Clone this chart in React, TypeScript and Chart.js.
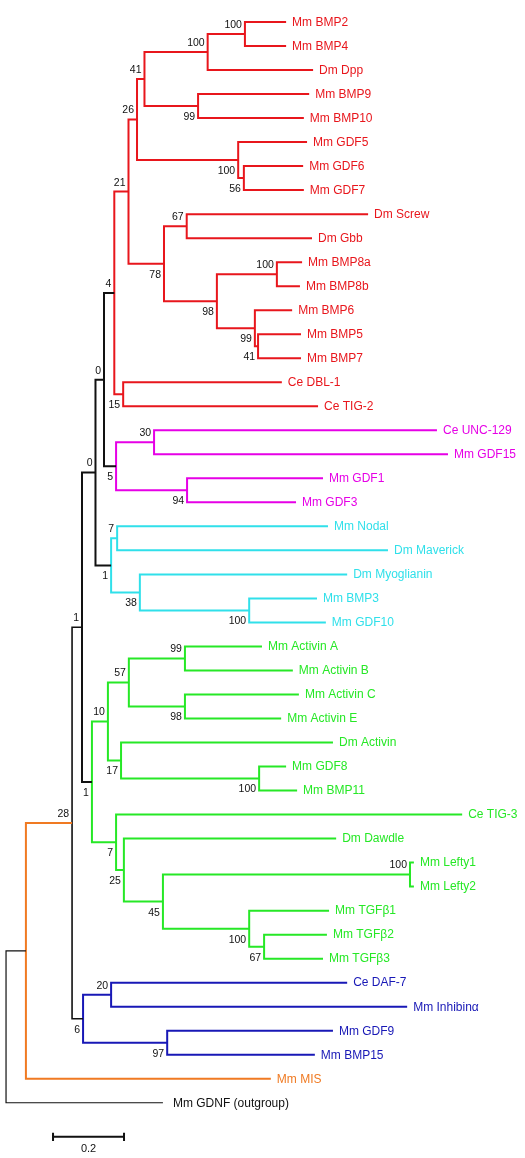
import { useEffect, useRef } from "react";
import { Chart, registerables } from "chart.js";

Chart.register(...registerables);

// ---------- DATA ----------
// Leaves, top to bottom
const leafNames: string[] = [
  "Mm BMP2", "Mm BMP4", "Dm Dpp", "Mm BMP9", "Mm BMP10", "Mm GDF5", "Mm GDF6", "Mm GDF7",
  "Dm Screw", "Dm Gbb", "Mm BMP8a", "Mm BMP8b", "Mm BMP6", "Mm BMP5", "Mm BMP7",
  "Ce DBL-1", "Ce TIG-2", "Ce UNC-129", "Mm GDF15", "Mm GDF1", "Mm GDF3",
  "Mm Nodal", "Dm Maverick", "Dm Myoglianin", "Mm BMP3", "Mm GDF10",
  "Mm Activin A", "Mm Activin B", "Mm Activin C", "Mm Activin E", "Dm Activin",
  "Mm GDF8", "Mm BMP11", "Ce TIG-3", "Dm Dawdle", "Mm Lefty1", "Mm Lefty2",
  "Mm TGFβ1", "Mm TGFβ2", "Mm TGFβ3", "Ce DAF-7", "Mm Inhibinα", "Mm GDF9", "Mm BMP15",
  "Mm MIS", "Mm GDNF (outgroup)",
];

// Distance of each leaf tip from the root (substitutions per site)
const leafDist: number[] = [
  0.789, 0.789, 0.865, 0.854, 0.839, 0.848, 0.837, 0.839,
  1.020, 0.862, 0.834, 0.828, 0.806, 0.831, 0.831,
  0.777, 0.879, 1.214, 1.245, 0.893, 0.817,
  0.907, 1.076, 0.961, 0.876, 0.901,
  0.721, 0.808, 0.825, 0.775, 0.921,
  0.789, 0.820, 1.285, 0.930, 1.149, 1.149,
  0.910, 0.904, 0.893, 0.961, 1.130, 0.921, 0.870,
  0.746, 0.442,
];

// Internal nodes
const nodeIds: string[] = [
  "root", "ingroup", "n72", "n82", "n95", "n104",
  "r4", "r21", "r26", "r41", "r100a", "r100b", "r99", "r100c", "r56",
  "r78", "r67", "r98", "r100d", "r99b", "r41b", "r15",
  "m5", "m30", "m94",
  "c1", "c7", "c38", "c100",
  "g1", "g10", "g57", "g99", "g98", "g17", "g100a", "g7", "g25", "g45", "g100b", "g100c", "g67",
  "b6", "b20", "b97",
];

const nodeKids: [string, string][] = [
  ["ingroup", "Mm GDNF (outgroup)"], ["n72", "Mm MIS"], ["n82", "b6"], ["n95", "g1"], ["n104", "c1"], ["r4", "m5"],
  ["r21", "r15"], ["r26", "r78"], ["r41", "r100c"], ["r100a", "r99"], ["r100b", "Dm Dpp"], ["Mm BMP2", "Mm BMP4"],
  ["Mm BMP9", "Mm BMP10"], ["Mm GDF5", "r56"], ["Mm GDF6", "Mm GDF7"],
  ["r67", "r98"], ["Dm Screw", "Dm Gbb"], ["r100d", "r99b"], ["Mm BMP8a", "Mm BMP8b"], ["Mm BMP6", "r41b"],
  ["Mm BMP5", "Mm BMP7"], ["Ce DBL-1", "Ce TIG-2"],
  ["m30", "m94"], ["Ce UNC-129", "Mm GDF15"], ["Mm GDF1", "Mm GDF3"],
  ["c7", "c38"], ["Mm Nodal", "Dm Maverick"], ["Dm Myoglianin", "c100"], ["Mm BMP3", "Mm GDF10"],
  ["g10", "g7"], ["g57", "g17"], ["g99", "g98"], ["Mm Activin A", "Mm Activin B"], ["Mm Activin C", "Mm Activin E"],
  ["Dm Activin", "g100a"], ["Mm GDF8", "Mm BMP11"], ["Ce TIG-3", "g25"], ["Dm Dawdle", "g45"], ["g100b", "g100c"],
  ["Mm Lefty1", "Mm Lefty2"], ["Mm TGFβ1", "g67"], ["Mm TGFβ2", "Mm TGFβ3"],
  ["b20", "b97"], ["Ce DAF-7", "Mm Inhibinα"], ["Mm GDF9", "Mm BMP15"],
];

const nodeDist: number[] = [
  0, 0.056, 0.186, 0.214, 0.252, 0.276,
  0.305, 0.345, 0.369, 0.390, 0.568, 0.673, 0.541, 0.654, 0.670,
  0.445, 0.509, 0.594, 0.763, 0.701, 0.710, 0.330,
  0.310, 0.417, 0.510,
  0.296, 0.313, 0.377, 0.685,
  0.242, 0.287, 0.346, 0.504, 0.504, 0.324, 0.713, 0.310, 0.332, 0.442, 1.138, 0.685, 0.727,
  0.217, 0.296, 0.454,
];

// Bootstrap support (null = not shown)
const nodeSupport: (number | null)[] = [
  null, null, 28, 1, 0, 0,
  4, 21, 26, 41, 100, 100, 99, 100, 56,
  78, 67, 98, 100, 99, 41, 15,
  5, 30, 94,
  1, 7, 38, 100,
  1, 10, 57, 99, 98, 17, 100, 7, 25, 45, 100, 100, 67,
  6, 20, 97,
];

const scaleBarLength = 0.2;
const scaleBarLabel = "0.2";

// ---------- STYLE ----------
const palette: Record<string, string> = {
  r: "#e8161c",
  m: "#e600e6",
  c: "#30e0ea",
  g: "#26e826",
  b: "#1818b6",
  o: "#f07a22",
  k: "#111111",
};
function nodeColor(id: string): string {
  if (id === "ingroup") return palette.o;
  if (id === "root" || id.startsWith("n")) return palette.k;
  return palette[id[0]] || palette.k;
}
function nodeWidth(id: string): number {
  if (id === "root") return 1.2;
  if (id === "n72") return 1.6;
  return 2;
}
const FONT = '"Liberation Sans", Arial, Helvetica, sans-serif';

export default function App() {
  const ref = useRef<HTMLCanvasElement | null>(null);

  useEffect(() => {
    if (!ref.current) return;

    const isLeaf = (id: string) => leafNames.indexOf(id) >= 0;
    const distOf = (id: string): number =>
      isLeaf(id) ? leafDist[leafNames.indexOf(id)] : nodeDist[nodeIds.indexOf(id)];
    const yOf = (id: string): number => {
      if (isLeaf(id)) return leafNames.indexOf(id);
      const k = nodeKids[nodeIds.indexOf(id)];
      return (yOf(k[0]) + yOf(k[1])) / 2;
    };
    const parentOf: Record<string, string> = {};
    nodeIds.forEach((id, i) => {
      parentOf[nodeKids[i][0]] = id;
      parentOf[nodeKids[i][1]] = id;
    });
    const isFirstChild = (id: string) => {
      const p = parentOf[id];
      if (!p) return true;
      return nodeKids[nodeIds.indexOf(p)][0] === id;
    };

    const datasets: any[] = nodeIds.map((id, i) => {
      const [a, b] = nodeKids[i];
      const xn = nodeDist[i];
      const ya = yOf(a);
      const yb = yOf(b);
      return {
        label: id,
        data: [
          { x: distOf(a), y: ya },
          { x: xn, y: ya },
          { x: xn, y: yb },
          { x: distOf(b), y: yb },
        ],
        showLine: true,
        borderColor: nodeColor(id),
        backgroundColor: nodeColor(id),
        borderWidth: nodeWidth(id),
        pointRadius: 0,
        pointHoverRadius: 0,
        fill: false,
        tension: 0,
        borderJoinStyle: "miter",
        borderCapStyle: "butt",
      };
    });

    // scale bar
    const sbX0 = 0.1324;
    const sbY = 46.42;
    const sbT = 0.17;
    datasets.push({
      label: "scale",
      data: [
        { x: sbX0, y: sbY - sbT },
        { x: sbX0, y: sbY + sbT },
        { x: sbX0, y: sbY },
        { x: sbX0 + scaleBarLength, y: sbY },
        { x: sbX0 + scaleBarLength, y: sbY - sbT },
        { x: sbX0 + scaleBarLength, y: sbY + sbT },
      ],
      showLine: true,
      borderColor: "#111111",
      borderWidth: 2,
      pointRadius: 0,
      fill: false,
      tension: 0,
      borderJoinStyle: "miter",
    });

    const labelPlugin = {
      id: "treeLabels",
      afterDatasetsDraw(chart: any) {
        const ctx = chart.ctx as CanvasRenderingContext2D;
        const xs = chart.scales.x;
        const ys = chart.scales.y;
        ctx.save();
        // leaf names
        ctx.font = `12px ${FONT}`;
        ctx.textBaseline = "middle";
        ctx.textAlign = "left";
        leafNames.forEach((name, i) => {
          const p = parentOf[name];
          ctx.fillStyle = nodeColor(p);
          const gap = name === "Mm GDNF (outgroup)" ? 10 : 6;
          ctx.fillText(name, xs.getPixelForValue(leafDist[i]) + gap, ys.getPixelForValue(i) + 0.5);
        });
        // support values
        ctx.font = `10.5px ${FONT}`;
        ctx.fillStyle = "#111111";
        ctx.textAlign = "right";
        nodeIds.forEach((id, i) => {
          const s = nodeSupport[i];
          if (s === null) return;
          const px = xs.getPixelForValue(nodeDist[i]) - 3;
          const py = ys.getPixelForValue(yOf(id)) + (isFirstChild(id) ? -9 : 11);
          ctx.fillText(String(s), px, py);
        });
        // scale bar label
        ctx.textAlign = "center";
        ctx.font = `11px ${FONT}`;
        ctx.fillText(
          scaleBarLabel,
          xs.getPixelForValue(sbX0 + scaleBarLength / 2),
          ys.getPixelForValue(sbY) + 12
        );
        ctx.restore();
      },
    };

    const chart = new Chart(ref.current, {
      type: "scatter",
      data: { datasets },
      options: {
        animation: false,
        responsive: false,
        events: [],
        layout: { padding: 0 },
        plugins: {
          legend: { display: false },
          tooltip: { enabled: false },
          title: { display: false },
        },
        scales: {
          x: { type: "linear", display: false, min: -0.017, max: 1.462 },
          y: { type: "linear", display: false, reverse: true, min: -0.916, max: 47.3 },
        },
      },
      plugins: [labelPlugin],
    } as any);

    return () => chart.destroy();
  }, []);

  return (
    <div style={{ position: "absolute", left: 0, top: 0, width: 525, height: 1158, background: "#ffffff" }}>
      <canvas ref={ref} width={525} height={1158} style={{ width: 525, height: 1158, display: "block" }} />
    </div>
  );
}
